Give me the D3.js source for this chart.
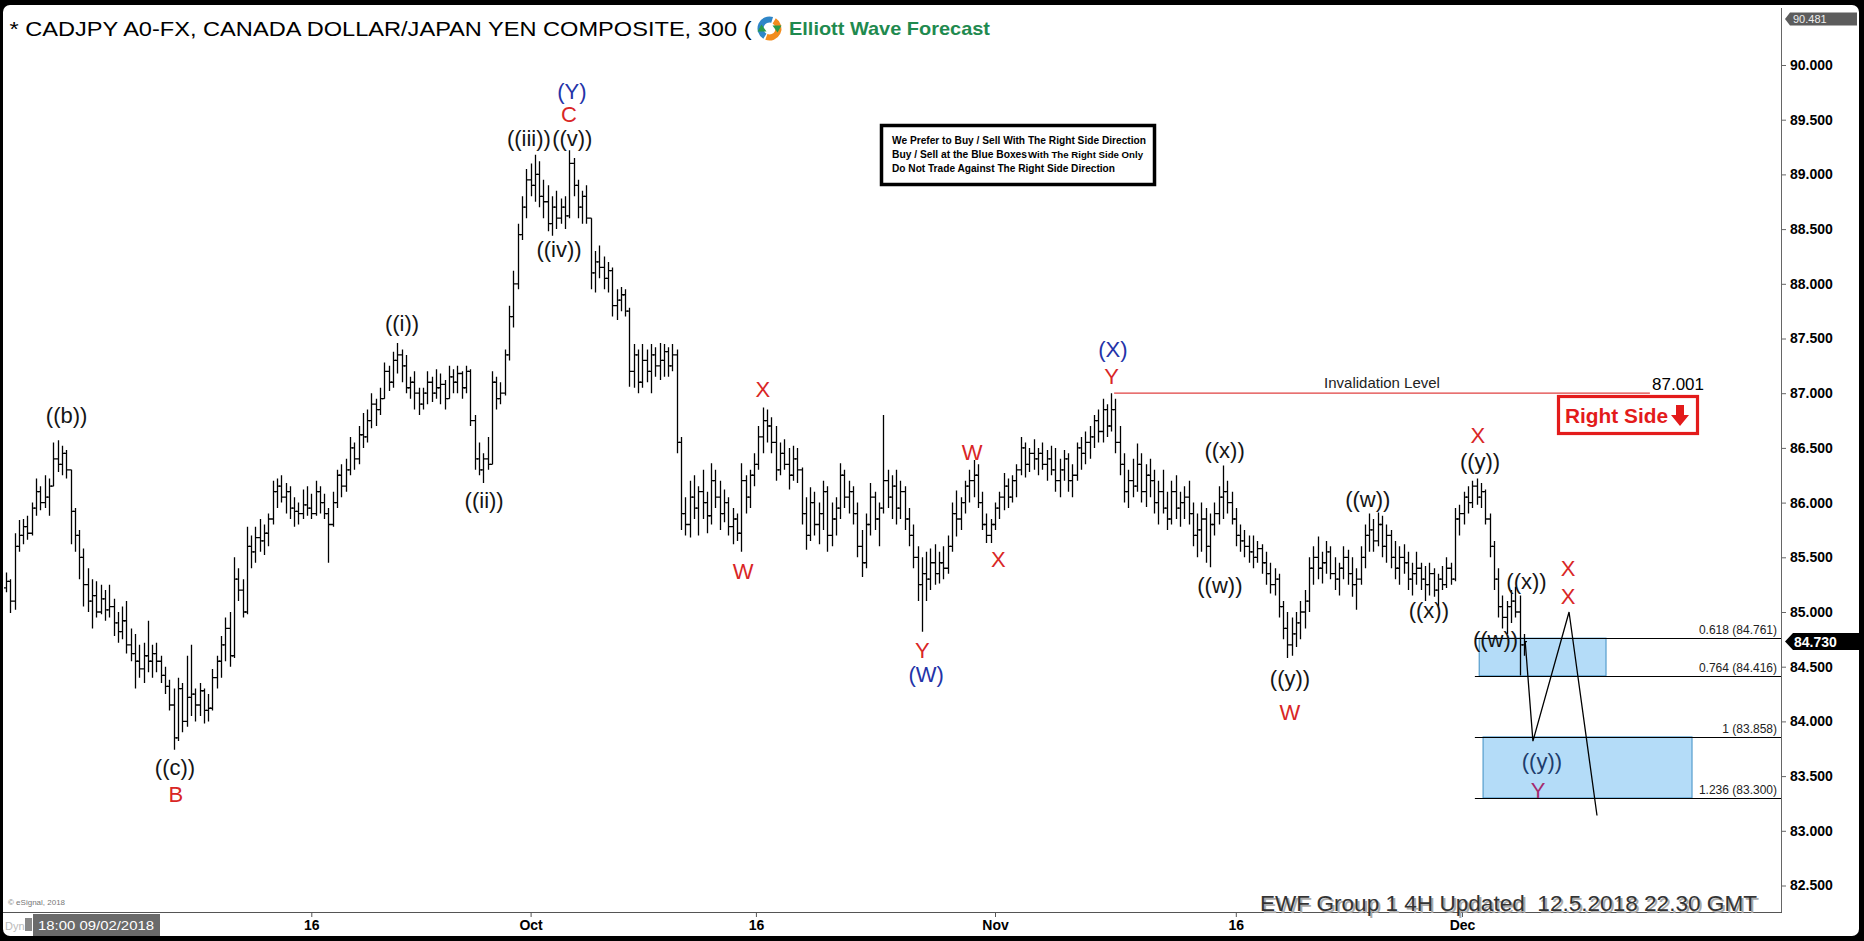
<!DOCTYPE html>
<html><head><meta charset="utf-8">
<script src="https://cdn.jsdelivr.net/npm/d3@7"></script>
<style>html,body{margin:0;padding:0;background:#000;overflow:hidden}svg{display:block}text{font-family:"Liberation Sans",Arial,sans-serif}</style>
</head><body><svg id="c" width="1864" height="941"></svg>
<script>
// ---------- DATA ----------
const opens = [
85.22,85.28,85.10,85.60,85.70,85.78,85.72,85.95,86.10,86.00,
86.05,86.15,86.40,86.35,86.45,86.30,85.92,85.70,85.50,85.25,
85.10,85.15,85.00,85.12,85.02,85.05,84.90,84.82,84.92,84.70,
84.62,84.55,84.48,84.60,84.55,84.62,84.55,84.42,84.32,84.15,
83.85,84.30,84.00,84.22,84.25,84.15,84.28,84.10,84.12,84.40,
84.55,84.70,84.85,84.60,85.30,85.20,85.00,85.60,85.55,85.68,
85.65,85.72,85.85,86.10,86.15,86.05,86.10,85.95,85.92,85.90,
85.98,85.95,85.90,86.10,86.00,85.90,85.80,86.00,86.25,86.15,
86.30,86.50,86.40,86.62,86.60,86.75,86.90,86.85,86.95,87.20,
87.10,87.30,87.35,87.25,87.05,87.10,87.00,86.90,87.00,87.10,
87.00,87.05,87.08,86.95,87.15,87.10,87.18,87.05,87.20,86.75,
86.40,86.30,86.40,86.35,87.10,86.95,87.00,87.35,87.70,88.00,
88.45,88.70,88.95,88.90,89.00,88.80,88.75,88.55,88.70,88.60,
88.70,88.62,89.10,88.90,88.70,88.80,88.60,88.10,88.20,88.15,
88.05,88.12,87.80,87.85,87.90,87.75,87.20,87.35,87.10,87.30,
87.20,87.35,87.25,87.30,87.38,87.25,87.35,86.55,85.90,85.80,
86.05,85.95,86.10,86.00,85.88,86.20,86.05,85.90,86.00,85.78,
85.85,85.72,86.20,86.05,86.25,86.35,86.60,86.75,86.70,86.55,
86.30,86.45,86.35,86.25,86.40,86.30,85.90,85.70,86.00,85.80,
85.90,86.10,85.70,85.85,85.95,86.25,86.05,86.10,85.90,85.60,
85.45,85.80,86.05,85.85,85.95,86.20,86.05,86.15,85.95,86.10,
85.85,85.70,85.50,85.25,85.35,85.30,85.45,85.35,85.45,85.40,
85.60,85.90,85.85,86.00,86.15,86.20,86.25,86.00,85.80,85.70,
85.80,85.95,86.05,86.15,86.05,86.20,86.30,86.50,86.35,86.45,
86.40,86.45,86.35,86.40,86.30,86.20,86.30,86.40,86.20,86.25,
86.50,86.45,86.55,86.60,86.75,86.65,86.85,86.70,86.85,86.55,
86.35,86.10,86.20,86.15,86.35,86.10,86.25,86.20,86.00,86.10,
85.95,85.85,86.10,85.95,86.00,86.05,85.90,85.70,85.75,85.85,
85.60,85.80,85.90,86.05,86.10,86.00,85.85,85.70,85.65,85.60,
85.55,85.50,85.58,85.45,85.35,85.25,85.30,85.05,84.85,84.70,
84.80,84.90,85.00,85.10,85.40,85.50,85.40,85.45,85.55,85.35,
85.30,85.40,85.50,85.35,85.25,85.30,85.50,85.70,85.75,85.65,
85.80,85.60,85.70,85.50,85.40,85.50,85.45,85.30,85.35,85.40,
85.30,85.25,85.35,85.20,85.30,85.25,85.40,85.30,85.85,85.90,
86.05,86.00,86.15,86.05,86.10,85.85,85.60,85.30,85.05,84.95,
85.05,85.10,85.00,84.70];
const highs = [
85.36,85.30,85.72,85.84,85.85,85.88,86.00,86.22,86.15,86.25,
86.22,86.55,86.57,86.52,86.48,86.30,85.95,85.75,85.58,85.40,
85.30,85.28,85.25,85.20,85.25,85.12,85.00,85.05,85.10,84.85,
84.80,84.70,84.72,84.92,84.70,84.72,84.60,84.50,84.38,84.30,
84.40,84.35,84.60,84.70,84.30,84.35,84.30,84.25,84.48,84.60,
84.78,84.95,85.00,85.50,85.40,85.30,85.78,85.70,85.78,85.85,
85.80,85.90,86.20,86.22,86.25,86.18,86.15,86.05,86.00,86.12,
86.15,86.08,86.20,86.15,86.08,85.95,86.10,86.30,86.35,86.40,
86.60,86.55,86.70,86.82,86.85,87.00,86.95,87.05,87.28,87.25,
87.38,87.46,87.40,87.35,87.15,87.20,87.05,87.05,87.20,87.15,
87.22,87.18,87.12,87.25,87.22,87.25,87.20,87.25,87.22,86.80,
86.55,86.45,86.60,87.20,87.15,87.10,87.40,87.80,88.12,88.55,
88.80,89.05,89.10,89.18,89.12,88.95,88.90,88.80,88.85,88.78,
88.80,89.22,89.15,88.95,88.85,88.90,88.60,88.30,88.35,88.25,
88.20,88.15,87.95,87.97,87.95,87.78,87.45,87.40,87.45,87.40,
87.45,87.42,87.46,87.45,87.42,87.45,87.40,86.60,86.05,86.20,
86.25,86.15,86.30,86.10,86.36,86.30,86.20,86.12,86.05,85.95,
85.90,86.36,86.25,86.30,86.45,86.70,86.87,86.85,86.78,86.70,
86.55,86.58,86.50,86.52,86.50,86.32,86.05,86.14,86.10,86.00,
86.20,86.15,86.00,86.05,86.36,86.30,86.20,86.15,86.00,85.75,
85.90,86.18,86.10,86.00,86.80,86.30,86.25,86.30,86.20,86.15,
85.95,85.80,85.60,85.50,85.55,85.58,85.62,85.55,85.60,85.70,
86.00,86.11,86.05,86.20,86.30,86.39,86.35,86.10,85.90,85.85,
86.00,86.10,86.27,86.22,86.25,86.35,86.60,86.55,86.50,86.58,
86.50,86.55,86.48,86.52,86.50,86.40,86.48,86.45,86.35,86.55,
86.60,86.65,86.70,86.80,86.85,86.95,86.90,87.00,86.95,86.70,
86.45,86.30,86.40,86.54,86.45,86.35,86.40,86.30,86.20,86.30,
86.10,86.20,86.25,86.10,86.15,86.20,86.00,85.90,86.00,85.95,
85.90,86.00,86.15,86.34,86.20,86.10,85.95,85.80,85.75,85.70,
85.70,85.65,85.62,85.55,85.45,85.40,85.35,85.10,85.00,84.95,
85.00,85.10,85.20,85.50,85.60,85.69,85.55,85.65,85.60,85.50,
85.45,85.60,85.57,85.50,85.40,85.60,85.80,85.90,85.85,85.91,
85.88,85.80,85.75,85.65,85.60,85.62,85.55,85.45,85.55,85.45,
85.42,85.45,85.40,85.35,85.42,85.50,85.45,85.95,85.98,86.10,
86.15,86.20,86.22,86.18,86.12,85.90,85.65,85.40,85.15,85.10,
85.20,85.23,85.15,84.80];
const lows = [
85.18,84.99,85.02,85.55,85.62,85.66,85.70,85.88,85.93,85.95,
85.88,86.15,86.28,86.25,86.22,85.62,85.55,85.30,85.05,85.00,
84.85,84.95,84.98,84.92,84.95,84.78,84.72,84.75,84.62,84.55,
84.30,84.40,84.35,84.45,84.40,84.45,84.35,84.25,84.10,83.74,
83.82,83.90,83.95,84.05,84.00,84.05,83.98,84.00,84.10,84.30,
84.40,84.55,84.50,84.58,85.10,84.95,84.98,85.40,85.45,85.55,
85.52,85.60,85.80,85.95,86.00,85.90,85.85,85.78,85.80,85.85,
85.88,85.85,85.88,85.90,85.85,85.45,85.78,85.95,86.05,86.10,
86.25,86.30,86.35,86.50,86.55,86.68,86.70,86.80,86.95,87.02,
87.05,87.18,87.10,87.00,86.95,86.85,86.80,86.85,86.90,86.92,
86.95,86.90,86.85,86.95,87.00,87.00,86.95,87.00,86.70,86.30,
86.25,86.18,86.30,86.35,86.85,86.90,86.98,87.30,87.60,87.95,
88.40,88.60,88.80,88.75,88.70,88.60,88.48,88.44,88.50,88.55,
88.50,88.60,88.80,88.60,88.55,88.55,87.95,87.92,88.05,87.95,
87.92,87.70,87.67,87.75,87.70,87.06,87.05,87.00,87.05,87.10,
87.00,87.15,87.12,87.15,87.15,87.20,86.45,85.75,85.70,85.68,
85.85,85.70,85.85,85.72,85.80,85.95,85.75,85.82,85.70,85.62,
85.65,85.55,85.90,85.95,86.15,86.30,86.45,86.55,86.45,86.20,
86.25,86.30,86.12,86.20,86.18,85.80,85.57,85.65,85.70,85.62,
85.75,85.55,85.60,85.70,85.85,85.95,85.90,85.80,85.50,85.32,
85.40,85.70,85.75,85.60,85.90,85.95,85.85,85.80,85.85,85.75,
85.60,85.40,85.10,84.82,85.10,85.20,85.25,85.26,85.30,85.35,
85.55,85.69,85.75,85.90,86.00,86.05,85.95,85.75,85.63,85.63,
85.75,85.85,85.93,85.95,86.00,86.05,86.25,86.23,86.28,86.30,
86.25,86.30,86.20,86.25,86.10,86.05,86.20,86.10,86.05,86.20,
86.30,86.35,86.40,86.50,86.55,86.55,86.60,86.65,86.45,86.25,
86.00,85.95,86.05,86.10,86.00,85.96,86.05,85.90,85.80,85.90,
85.75,85.80,85.85,85.78,85.85,85.80,85.60,85.50,85.55,85.45,
85.41,85.70,85.80,85.85,85.90,85.80,85.60,85.55,85.50,85.45,
85.40,85.45,85.35,85.25,85.17,85.15,84.95,84.75,84.58,84.60,
84.68,84.75,84.85,85.00,85.25,85.30,85.26,85.35,85.30,85.20,
85.15,85.30,85.25,85.14,85.02,85.25,85.40,85.55,85.55,85.60,
85.50,85.45,85.40,85.30,85.25,85.35,85.20,85.15,85.25,85.20,
85.10,85.15,85.14,85.05,85.20,85.22,85.25,85.28,85.70,85.80,
85.90,85.95,85.98,85.95,85.80,85.50,85.20,84.95,84.85,84.80,
84.90,84.95,84.42,84.60];
const closes = [
85.28,85.10,85.60,85.70,85.78,85.72,85.95,86.10,86.00,86.05,
86.15,86.40,86.35,86.45,86.30,85.92,85.70,85.50,85.25,85.10,
85.15,85.00,85.12,85.02,85.05,84.90,84.82,84.92,84.70,84.62,
84.55,84.48,84.60,84.55,84.62,84.55,84.42,84.32,84.15,83.85,
84.30,84.00,84.22,84.25,84.15,84.28,84.10,84.12,84.40,84.55,
84.70,84.85,84.60,85.30,85.20,85.00,85.60,85.55,85.68,85.65,
85.72,85.85,86.10,86.15,86.05,86.10,85.95,85.92,85.90,85.98,
85.95,85.90,86.10,86.00,85.90,85.80,86.00,86.25,86.15,86.30,
86.50,86.40,86.62,86.60,86.75,86.90,86.85,86.95,87.20,87.10,
87.30,87.35,87.25,87.05,87.10,87.00,86.90,87.00,87.10,87.00,
87.05,87.08,86.95,87.15,87.10,87.18,87.05,87.20,86.75,86.40,
86.30,86.40,86.35,87.10,86.95,87.00,87.35,87.70,88.00,88.45,
88.70,88.95,88.90,89.00,88.80,88.75,88.55,88.70,88.60,88.70,
88.62,89.10,88.90,88.70,88.80,88.60,88.10,88.20,88.15,88.05,
88.12,87.80,87.85,87.90,87.75,87.20,87.35,87.10,87.30,87.20,
87.35,87.25,87.30,87.38,87.25,87.35,86.55,85.90,85.80,86.05,
85.95,86.10,86.00,85.88,86.20,86.05,85.90,86.00,85.78,85.85,
85.72,86.20,86.05,86.25,86.35,86.60,86.75,86.70,86.55,86.30,
86.45,86.35,86.25,86.40,86.30,85.90,85.70,86.00,85.80,85.90,
86.10,85.70,85.85,85.95,86.25,86.05,86.10,85.90,85.60,85.45,
85.80,86.05,85.85,85.95,86.20,86.05,86.15,85.95,86.10,85.85,
85.70,85.50,85.25,85.35,85.30,85.45,85.35,85.45,85.40,85.60,
85.90,85.85,86.00,86.15,86.20,86.25,86.00,85.80,85.70,85.80,
85.95,86.05,86.15,86.05,86.20,86.30,86.50,86.35,86.45,86.40,
86.45,86.35,86.40,86.30,86.20,86.30,86.40,86.20,86.25,86.50,
86.45,86.55,86.60,86.75,86.65,86.85,86.70,86.85,86.55,86.35,
86.10,86.20,86.15,86.35,86.10,86.25,86.20,86.00,86.10,85.95,
85.85,86.10,85.95,86.00,86.05,85.90,85.70,85.75,85.85,85.60,
85.80,85.90,86.05,86.10,86.00,85.85,85.70,85.65,85.60,85.55,
85.50,85.58,85.45,85.35,85.25,85.30,85.05,84.85,84.70,84.80,
84.90,85.00,85.10,85.40,85.50,85.40,85.45,85.55,85.35,85.30,
85.40,85.50,85.35,85.25,85.30,85.50,85.70,85.75,85.65,85.80,
85.60,85.70,85.50,85.40,85.50,85.45,85.30,85.35,85.40,85.30,
85.25,85.35,85.20,85.30,85.25,85.40,85.30,85.85,85.90,86.05,
86.00,86.15,86.05,86.10,85.85,85.60,85.30,85.05,84.95,85.05,
85.10,85.00,84.70,84.73];

const yTicks = [82.5,83,83.5,84,84.5,85,85.5,86,86.5,87,87.5,88,88.5,89,89.5,90];
const xTickIdx = [71,122,174.4,230,286,338.6];
const xTickLabels = ["16","Oct","16","Nov","16","Dec"];

const waveText  = ["((b))","((c))","B","((i))","((ii))","((iii))","((v))","C","(Y)","((iv))","X","W","Y","(W)","W","X","(X)","Y","((x))","((w))","((y))","W","((w))","((x))","X","((y))","((x))","X","X","((w))","((y))","Y"];
const waveIdx   = [14.1,39.3,39.5,92.1,111.2,121.6,131.7,130.9,131.6,128.6,176,171.4,213.1,214,224.7,230.8,257.4,257.1,283.4,282.3,298.6,298.6,316.7,330.9,342.3,342.8,353.6,363.3,363.3,346.4,357.2,356.3];
const wavePrice = [86.80,83.58,83.33,87.64,86.02,89.33,89.33,89.55,89.76,88.31,87.03,85.37,84.65,84.43,86.46,85.48,87.40,87.15,86.48,85.24,84.39,84.08,86.03,85.01,86.61,86.38,85.28,85.40,85.14,84.75,83.63,83.37];
const waveColor = ["k","k","r","k","k","k","k","r","b","k","r","r","r","b","r","r","b","r","k","k","k","r","k","k","r","k","k","r","r","k","n","p"];
const palette = {k:"#151515", r:"#d92626", b:"#2433a8", n:"#203c6c", p:"#a52a6e"};

const fibLevels = ["0.618","0.764","1","1.236"];
const fibPrices = [84.761,84.416,83.858,83.300];
const fibStartIdx = 341.6;
const boxStartIdx = [342.6,343.5];
const boxEndIdx = [372.1,392.1];
const boxTop = [84.761,83.858];
const boxBottom = [84.416,83.300];

const projIdx = [353.3,355.1,363.5,370];
const projPrice = [84.73,83.82,85.0,83.14];

const invalidation = {fromIdx:257.7, toIdx:382.3, price:87.001};
const lastPrice = 84.730;
const topPrice = 90.481;

// ---------- LAYOUT ----------
const W = 1864, H = 941;
const plotLeft = 6, barStep = 4.3, axisX = 1781, axisY = 912;
const svg = d3.select("#c");
svg.append("rect").attr("width", W).attr("height", H).attr("fill", "#000");
svg.append("rect").attr("x", 3).attr("y", 5).attr("width", 1856).attr("height", 931).attr("rx", 7).attr("fill", "#fff");

const n = closes.length;
const x = d3.scaleLinear().domain([0, n - 1]).range([plotLeft, plotLeft + barStep * (n - 1)]);
const y = d3.scaleLinear().domain([82.5, 90]).range([885.5, 65]);

// title
svg.append("text").attr("x", 9.5).attr("y", 36).attr("font-size", 21).attr("fill", "#000")
  .attr("textLength", 742).attr("lengthAdjust", "spacingAndGlyphs")
  .text("* CADJPY A0-FX, CANADA DOLLAR/JAPAN YEN COMPOSITE, 300 (");
// logo
const lg = svg.append("g").attr("transform", "translate(769.5,28.5)");
lg.append("circle").attr("r", 12).attr("fill", "#fff");
lg.append("path").attr("d", d3.arc()({innerRadius: 6, outerRadius: 12, startAngle: -2.6, endAngle: 0.3})).attr("fill", "#2f86c8");
lg.append("path").attr("d", d3.arc()({innerRadius: 6, outerRadius: 12, startAngle: 0.55, endAngle: 3.5})).attr("fill", "#f28c1e");
lg.append("path").attr("d", "M3,-3 L12,-3 L8,4 Z").attr("fill", "#2a9a4a");
lg.append("path").attr("d", "M-3,3 L-12,3 L-8,-4 Z").attr("fill", "#2a9a4a");
svg.append("text").attr("x", 789).attr("y", 35).attr("font-size", 19).attr("font-weight", "bold")
  .attr("fill", "#1f8a4f").attr("textLength", 201).attr("lengthAdjust", "spacingAndGlyphs").text("Elliott Wave Forecast");

// info box
svg.append("rect").attr("x", 881.5).attr("y", 125.5).attr("width", 273).attr("height", 59)
  .attr("fill", "#fff").attr("stroke", "#000").attr("stroke-width", 3.5);
const info = [
  {t: "We Prefer to Buy / Sell With The Right Side Direction", x: 892, y: 144, w: 254, s: 10.5},
  {t: "Buy / Sell at the Blue Boxes", x: 892, y: 158, w: 135, s: 10.5},
  {t: "With The Right Side Only", x: 1028, y: 158, w: 115, s: 9},
  {t: "Do Not Trade Against The Right Side Direction", x: 892, y: 172, w: 223, s: 10.5}
];
svg.selectAll(".info").data(info).join("text").attr("class", "info")
  .attr("x", d => d.x).attr("y", d => d.y).attr("font-size", d => d.s).attr("font-weight", "bold")
  .attr("textLength", d => d.w).attr("lengthAdjust", "spacingAndGlyphs").text(d => d.t);

// fib boxes
svg.selectAll(".fbox").data(boxStartIdx).join("rect").attr("class", "fbox")
  .attr("x", (d, i) => x(d)).attr("width", (d, i) => x(boxEndIdx[i]) - x(d))
  .attr("y", (d, i) => y(boxTop[i])).attr("height", (d, i) => y(boxBottom[i]) - y(boxTop[i]))
  .attr("fill", "#b4dcf8").attr("stroke", "#3f8fc4").attr("stroke-width", 1);

// fib lines & labels
svg.selectAll(".fline").data(fibPrices).join("line").attr("class", "fline")
  .attr("x1", x(fibStartIdx)).attr("x2", axisX).attr("y1", d => Math.round(y(d)) + 0.5).attr("y2", d => Math.round(y(d)) + 0.5)
  .attr("stroke", "#000").attr("stroke-width", 1.2);
svg.selectAll(".flab").data(fibPrices).join("text").attr("class", "flab")
  .attr("x", 1777).attr("y", d => y(d) - 4).attr("text-anchor", "end").attr("font-size", 12)
  .attr("fill", "#222").text((d, i) => `${fibLevels[i]} (${d.toFixed(3)})`);

// invalidation line
svg.append("line").attr("x1", x(invalidation.fromIdx)).attr("x2", x(invalidation.toIdx))
  .attr("y1", y(invalidation.price)).attr("y2", y(invalidation.price)).attr("stroke", "#e04040").attr("stroke-width", 1.3);
svg.append("text").attr("x", 1382).attr("y", y(invalidation.price) - 11).attr("text-anchor", "middle")
  .attr("dominant-baseline", "central").attr("font-size", 15).attr("fill", "#222").text("Invalidation Level");
svg.append("text").attr("x", 1652).attr("y", y(invalidation.price) - 9).attr("dominant-baseline", "central")
  .attr("font-size", 17).attr("fill", "#000").text(invalidation.price.toFixed(3));

// Right side box
svg.append("rect").attr("x", 1558.5).attr("y", 396.5).attr("width", 139).attr("height", 37)
  .attr("fill", "#fff").attr("stroke", "#e31b1b").attr("stroke-width", 3.2);
svg.append("text").attr("x", 1565).attr("y", 423).attr("font-size", 21).attr("font-weight", "bold")
  .attr("fill", "#e31b1b").attr("textLength", 103).attr("lengthAdjust", "spacingAndGlyphs").text("Right Side");
svg.append("path").attr("transform", "translate(1671,405)")
  .attr("d", "M5,0 H13 V10 H18 L9,21 L0,10 H5 Z").attr("fill", "#e31b1b");

// OHLC bars
svg.append("g").selectAll("path").data(closes).join("path")
  .attr("d", (c, i) => {
    const xi = Math.round(x(i)) + 0.5;
    return `M${xi},${y(highs[i])}V${y(lows[i])}M${xi - 2.5},${y(opens[i])}H${xi}M${xi},${y(c)}H${xi + 2.5}`;
  })
  .attr("stroke", "#000").attr("stroke-width", 1.3).attr("fill", "none");

// projection path
svg.append("path").attr("d", d3.line().x(d => x(d)).y((d, i) => y(projPrice[i]))(projIdx))
  .attr("fill", "none").attr("stroke", "#000").attr("stroke-width", 1.3);

// wave labels
svg.append("g").selectAll("text").data(waveText).join("text")
  .attr("x", (d, i) => x(waveIdx[i])).attr("y", (d, i) => y(wavePrice[i]))
  .attr("text-anchor", "middle").attr("dominant-baseline", "central")
  .attr("font-size", 22).attr("fill", (d, i) => palette[waveColor[i]]).text(d => d);

// right axis
svg.append("line").attr("x1", axisX + 0.5).attr("x2", axisX + 0.5).attr("y1", 8).attr("y2", axisY).attr("stroke", "#666");
const ya = svg.append("g").attr("transform", `translate(${axisX},0)`)
  .call(d3.axisRight(y).tickValues(yTicks).tickSize(5).tickFormat(d3.format(".3f")));
ya.select(".domain").remove();
ya.selectAll("line").attr("stroke", "#666");
ya.selectAll("text").attr("x", 9).attr("font-size", 14).attr("font-weight", "bold").attr("fill", "#000")
  .attr("font-family", "'Liberation Sans',Arial,sans-serif");

// top price tag
const ty = Math.max(y(topPrice), 12) + 6.5;
svg.append("path").attr("d", `M${axisX + 4},${ty} L${axisX + 9},${ty - 6.5} H1857 V${ty + 6.5} H${axisX + 9} Z`).attr("fill", "#5c5c5c");
svg.append("text").attr("x", axisX + 12).attr("y", ty).attr("dominant-baseline", "central")
  .attr("font-size", 11).attr("fill", "#eee").text(topPrice.toFixed(3));
// last price tag
const ly = y(lastPrice);
svg.append("path").attr("d", `M${axisX + 4},${ly} L${axisX + 12},${ly - 8.5} H1859 V${ly + 8.5} H${axisX + 12} Z`).attr("fill", "#000");
svg.append("text").attr("x", axisX + 13).attr("y", ly + 0.5).attr("dominant-baseline", "central")
  .attr("font-size", 14).attr("font-weight", "bold").attr("fill", "#fff").text(lastPrice.toFixed(3));

// bottom axis
svg.append("line").attr("x1", 3).attr("x2", axisX + 1).attr("y1", axisY + 0.5).attr("y2", axisY + 0.5).attr("stroke", "#555");
const xa = svg.append("g").attr("transform", `translate(0,${axisY})`)
  .call(d3.axisBottom(x).tickValues(xTickIdx).tickSize(5).tickFormat((d, i) => xTickLabels[i]));
xa.select(".domain").remove();
xa.selectAll("line").attr("stroke", "#555");
xa.selectAll("text").attr("y", 8).attr("dy", "0.71em").attr("font-size", 14).attr("font-weight", "bold").attr("fill", "#000")
  .attr("font-family", "'Liberation Sans',Arial,sans-serif");

svg.append("text").attr("x", 8).attr("y", 905).attr("font-size", 8).attr("fill", "#777").text("© eSignal, 2018");
svg.append("text").attr("x", 5).attr("y", 930).attr("font-size", 11).attr("fill", "#bbb").text("Dyn");
svg.append("rect").attr("x", 25).attr("y", 918).attr("width", 7).attr("height", 13).attr("fill", "#888");
svg.append("rect").attr("x", 33).attr("y", 914).attr("width", 127).attr("height", 22).attr("fill", "#6a6a6a");
svg.append("text").attr("x", 38).attr("y", 930).attr("font-size", 13).attr("fill", "#fff")
  .attr("font-family", "'DejaVu Sans',sans-serif").attr("textLength", 116).attr("lengthAdjust", "spacingAndGlyphs").text("18:00 09/02/2018");

// EWF stamp
const stamp = "EWF Group 1 4H Updated  12.5.2018 22.30 GMT";
svg.append("text").attr("x", 1262).attr("y", 913).attr("font-size", 22.5).attr("fill", "#aaa")
  .attr("textLength", 497).attr("lengthAdjust", "spacingAndGlyphs").attr("xml:space", "preserve").text(stamp);
svg.append("text").attr("x", 1260).attr("y", 911).attr("font-size", 22.5).attr("fill", "#333")
  .attr("textLength", 497).attr("lengthAdjust", "spacingAndGlyphs").attr("xml:space", "preserve").text(stamp);
</script>
</body></html>
